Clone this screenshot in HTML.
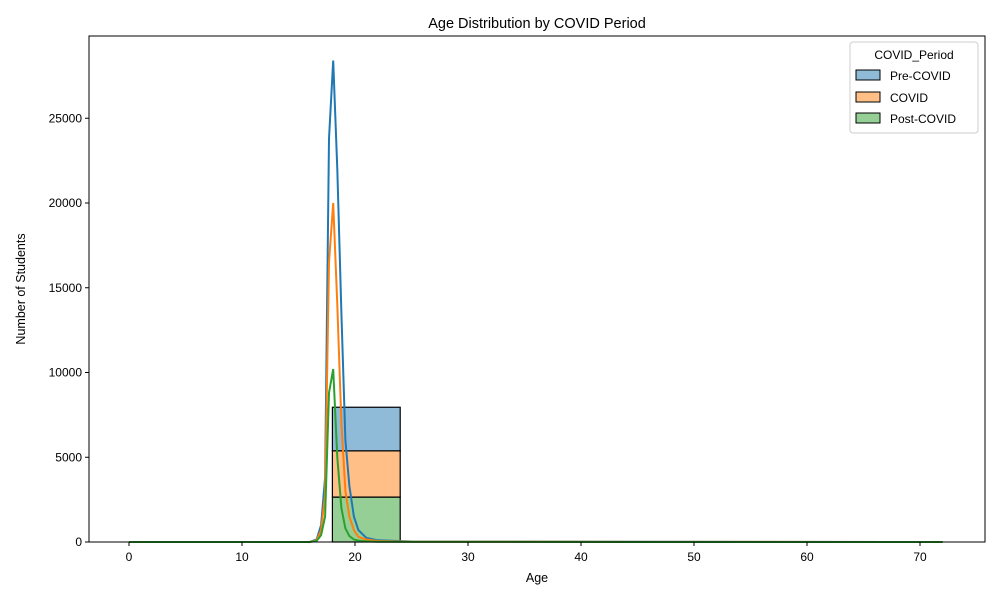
<!DOCTYPE html>
<html><head><meta charset="utf-8"><style>
body{margin:0;background:#fff;font-family:"Liberation Sans","DejaVu Sans",sans-serif;}
svg text{font-family:"Liberation Sans","DejaVu Sans",sans-serif;}
</style></head><body>
<svg id="chart" width="1000" height="600" xmlns="http://www.w3.org/2000/svg"></svg>
<script>
const xTicks=[0,10,20,30,40,50,60,70];
const yTicks=[0,5000,10000,15000,20000,25000];
const seriesNames=["Pre-COVID","COVID","Post-COVID"];
const binEdges=[18,24];
const binPre=[2570];
const binCovid=[2730];
const binPost=[2650];
const kdeAges=[0,16,16.6,17.0,17.35,17.7,18.07,18.43,18.8,19.15,19.5,19.9,20.3,21,22,25,72];
const kdePre=[0,0,150,1000,3800,23800,28400,22000,13500,6000,3300,1500,700,250,100,30,0];
const kdeCovid=[0,0,100,700,2800,16500,20000,14000,7000,3000,1500,700,300,150,60,20,0];
const kdePost=[0,0,60,400,1500,8800,10200,5000,2000,800,350,150,80,40,20,5,0];
const colors=["#1f77b4","#ff7f0e","#2ca02c"];
const fills=["#8fbbd9","#ffbf86","#95cf95"];
const svg=document.getElementById('chart');
const NS="http://www.w3.org/2000/svg";
const L=89,R=985,T=36,B=542;
function X(v){return 129+v*11.3;}
function Y(v){return 542-v*0.01695;}
function mk(tag,attrs,parent){const e=document.createElementNS(NS,tag);for(const k in attrs)e.setAttribute(k,attrs[k]);(parent||svg).appendChild(e);return e;}
// bars
const stacks=[binPost,binCovid,binPre];const stackFill=[fills[2],fills[1],fills[0]];
const barNames=['bar-post-covid','bar-covid','bar-pre-covid'];
for(let i=0;i<binEdges.length-1;i++){let base=0;
 for(let s=0;s<3;s++){const v=stacks[s][i];
  const r=mk('rect',{x:X(binEdges[i]),y:Y(base+v),width:X(binEdges[i+1])-X(binEdges[i]),height:Y(base)-Y(base+v),fill:stackFill[s],stroke:'#000','stroke-width':1.2});
  
  
  base+=v;}}
// kde lines
const kdes=[kdePre,kdeCovid,kdePost];const kdeNames=['kde-pre-covid','kde-covid','kde-post-covid'];
for(let s=0;s<3;s++){
 const d=kdeAges.map((a,i)=>(i?'L':'M')+X(a).toFixed(1)+','+Y(kdes[s][i]).toFixed(1)).join(' ');
 const p=mk('path',{d:d,fill:'none',stroke:colors[s],'stroke-width':2});
 
 }
// axes frame
const fr=mk('rect',{x:L,y:T,width:R-L,height:B-T,fill:'none',stroke:'#000','stroke-width':1});


xTicks.forEach(t=>{mk('line',{x1:X(t),x2:X(t),y1:B,y2:B+4,stroke:'#000'});
 const tx=mk('text',{x:X(t),y:B+19,'text-anchor':'middle','font-size':12});tx.textContent=t;
 
 });
yTicks.forEach(t=>{mk('line',{x1:L-4,x2:L,y1:Y(t),y2:Y(t),stroke:'#000'});
 const tx=mk('text',{x:L-7,y:Y(t)+4,'text-anchor':'end','font-size':12});tx.textContent=t;
 
 });
</script>
<svg style="position:absolute;left:0;top:0" width="1000" height="600" xmlns="http://www.w3.org/2000/svg">
<text x="537" y="28" text-anchor="middle" font-size="14.5">Age Distribution by COVID Period</text>
<text x="537" y="582" text-anchor="middle" font-size="12.5">Age</text>
<text transform="translate(25,289) rotate(-90)" text-anchor="middle" font-size="12.5">Number of Students</text>
<g>
<rect x="850" y="42" width="128" height="91" fill="#fff" stroke="#ccc" rx="3"/>
<text x="914" y="59" text-anchor="middle" font-size="12">COVID_Period</text>
<rect x="856" y="70" width="24" height="10" fill="#8fbbd9" stroke="#000"/>
<text x="890" y="80" font-size="12">Pre-COVID</text>
<rect x="856" y="92" width="24" height="10" fill="#ffbf86" stroke="#000"/>
<text x="890" y="102" font-size="12">COVID</text>
<rect x="856" y="113" width="24" height="10" fill="#95cf95" stroke="#000"/>
<text x="890" y="123" font-size="12">Post-COVID</text>
</g>
</svg>
</body></html>
